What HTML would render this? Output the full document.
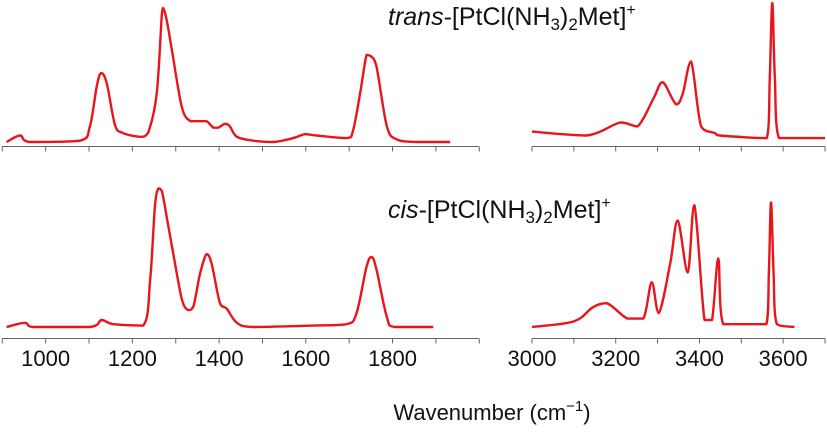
<!DOCTYPE html>
<html><head><meta charset="utf-8"><style>
html,body{margin:0;padding:0;background:#fff;}
svg{display:block;font-family:"Liberation Sans",Arial,sans-serif;}
</style></head><body>
<svg id="chart" width="827" height="434" viewBox="0 0 827 434">
<g id="axes"></g>
<g id="series"></g>
<text x="388" y="25" font-size="25" fill="#111"><tspan font-style="italic">trans</tspan>-[PtCl(NH<tspan font-size="17" dy="5">3</tspan><tspan dy="-5">)</tspan><tspan font-size="17" dy="5">2</tspan><tspan dy="-5">Met]</tspan><tspan font-size="16" dy="-10">+</tspan></text>
<text x="388" y="218" font-size="25" fill="#111"><tspan font-style="italic">cis</tspan>-[PtCl(NH<tspan font-size="17" dy="5">3</tspan><tspan dy="-5">)</tspan><tspan font-size="17" dy="5">2</tspan><tspan dy="-5">Met]</tspan><tspan font-size="16" dy="-10">+</tspan></text>
<text x="492" y="420" font-size="22" fill="#111" text-anchor="middle">Wavenumber (cm<tspan font-size="15" dy="-9">−1</tspan><tspan dy="9">)</tspan></text>
</svg>
<script>
const leftTicks=[900,1000,1100,1200,1300,1400,1500,1600,1700,1800,1900,2000];
const leftLabels=[1000,1200,1400,1600,1800];
const rightTicks=[3000,3100,3200,3300,3400,3500,3600,3700];
const rightLabels=[3000,3200,3400,3600];
const transLowWn=[910,941,964,1079,1102,1118,1128,1141,1160,1178,1218,1236,1256,1268,1271,1279,1291,1314,1334,1356,1371,1387,1398,1414,1425,1441,1479,1525,1571,1598,1625,1694,1709,1725,1740,1750,1763,1787,1810,1856,1933];
const transLowI=[0,5,0,1,12,43,53,45,13,7,4,7,37,99,103,94,71,27,16,16,16,11,11,14,12,4,1,0,3,6,5,3,9,37,67,66,58,12,2,0,0];
const transHighWn=[3000,3130,3211,3252,3291,3312,3344,3360,3380,3404,3436,3448,3561,3568,3574,3580,3590,3700];
const transHighI=[8,5,15,12,34,46,29,37,62,12,7,5,3,50,107,50,3,3];
const cisLowWn=[910,952,972,1102,1129,1156,1225,1241,1252,1260,1268,1279,1294,1314,1329,1341,1356,1371,1383,1402,1418,1441,1479,1614,1694,1717,1740,1752,1763,1787,1806,1894];
const cisLowI=[0,3,0,0,5,2,1,34,86,99,97,79,53,20,12,15,38,52,45,17,13,3,0,1,2,10,43,50,41,7,0,0];
const cisHighWn=[3000,3100,3145,3179,3228,3266,3286,3303,3330,3348,3372,3388,3412,3430,3445,3457,3560,3566,3571,3577,3585,3627];
const cisHighI=[0,4,14,17,6,6,32,10,45,76,39,87,5,5,49,2,2,40,89,40,2,0];

const NS="http://www.w3.org/2000/svg";
const axes=document.getElementById('axes');
const ser=document.getElementById('series');
function xL(w){return 2.3+(w-900)*0.4336;}
function xR(w){return 532+(w-3000)*0.4186;}
function yTop(v){return 142-v*1.3;}
function yBot(v){return 327-v*1.4;}
function mk(tag,attrs,parent){const e=document.createElementNS(NS,tag);for(const k in attrs)e.setAttribute(k,attrs[k]);parent.appendChild(e);return e;}
function axis(ticks,xf,y,name){
  const l=mk('line',{x1:xf(ticks[0]),x2:xf(ticks[ticks.length-1]),y1:y,y2:y,stroke:'#666','stroke-width':1},axes);
  
  
  ticks.forEach(t=>{const tk=mk('line',{x1:xf(t),x2:xf(t),y1:y,y2:y+5,stroke:'#666','stroke-width':1},axes);
    
    });
}
axis(leftTicks,xL,146.5,'top-left-axis');
axis(rightTicks,xR,146.5,'top-right-axis');
axis(leftTicks,xL,338.5,'bottom-left-axis');
axis(rightTicks,xR,338.5,'bottom-right-axis');
function labels(arr,xf){arr.forEach(v=>{const t=mk('text',{x:xf(v),y:366,'font-size':22,'text-anchor':'middle',fill:'#111'},axes);t.textContent=v;
  
  });}
labels(leftLabels,xL);labels(rightLabels,xR);
function clamp(v,a,b){const lo=Math.min(a,b),hi=Math.max(a,b);return Math.max(lo,Math.min(hi,v));}
function line(wn,iv,xf,yf,name){
  const pts=wn.map((w,i)=>[xf(w),yf(iv[i])]);
  let d='M'+pts[0][0].toFixed(1)+','+pts[0][1].toFixed(1);
  for(let i=0;i<pts.length-1;i++){
    const p0=pts[Math.max(0,i-1)],p1=pts[i],p2=pts[i+1],p3=pts[Math.min(pts.length-1,i+2)];
    const c1=[p1[0]+(p2[0]-p0[0])/6,clamp(p1[1]+(p2[1]-p0[1])/6,p1[1],p2[1])];
    const c2=[p2[0]-(p3[0]-p1[0])/6,clamp(p2[1]-(p3[1]-p1[1])/6,p1[1],p2[1])];
    c1[0]=clamp(c1[0],p1[0],p2[0]);c2[0]=clamp(c2[0],p1[0],p2[0]);
    d+='C'+c1[0].toFixed(1)+','+c1[1].toFixed(1)+' '+c2[0].toFixed(1)+','+c2[1].toFixed(1)+' '+p2[0].toFixed(1)+','+p2[1].toFixed(1);
  }
  const p=mk('path',{d:d,fill:'none',stroke:'#e8161b','stroke-width':2.4,'stroke-linejoin':'round'},ser);
  
  
}
line(transLowWn,transLowI,xL,yTop,'trans-low-spectrum');
line(transHighWn,transHighI,xR,yTop,'trans-high-spectrum');
line(cisLowWn,cisLowI,xL,yBot,'cis-low-spectrum');
line(cisHighWn,cisHighI,xR,yBot,'cis-high-spectrum');
</script>
</body></html>
